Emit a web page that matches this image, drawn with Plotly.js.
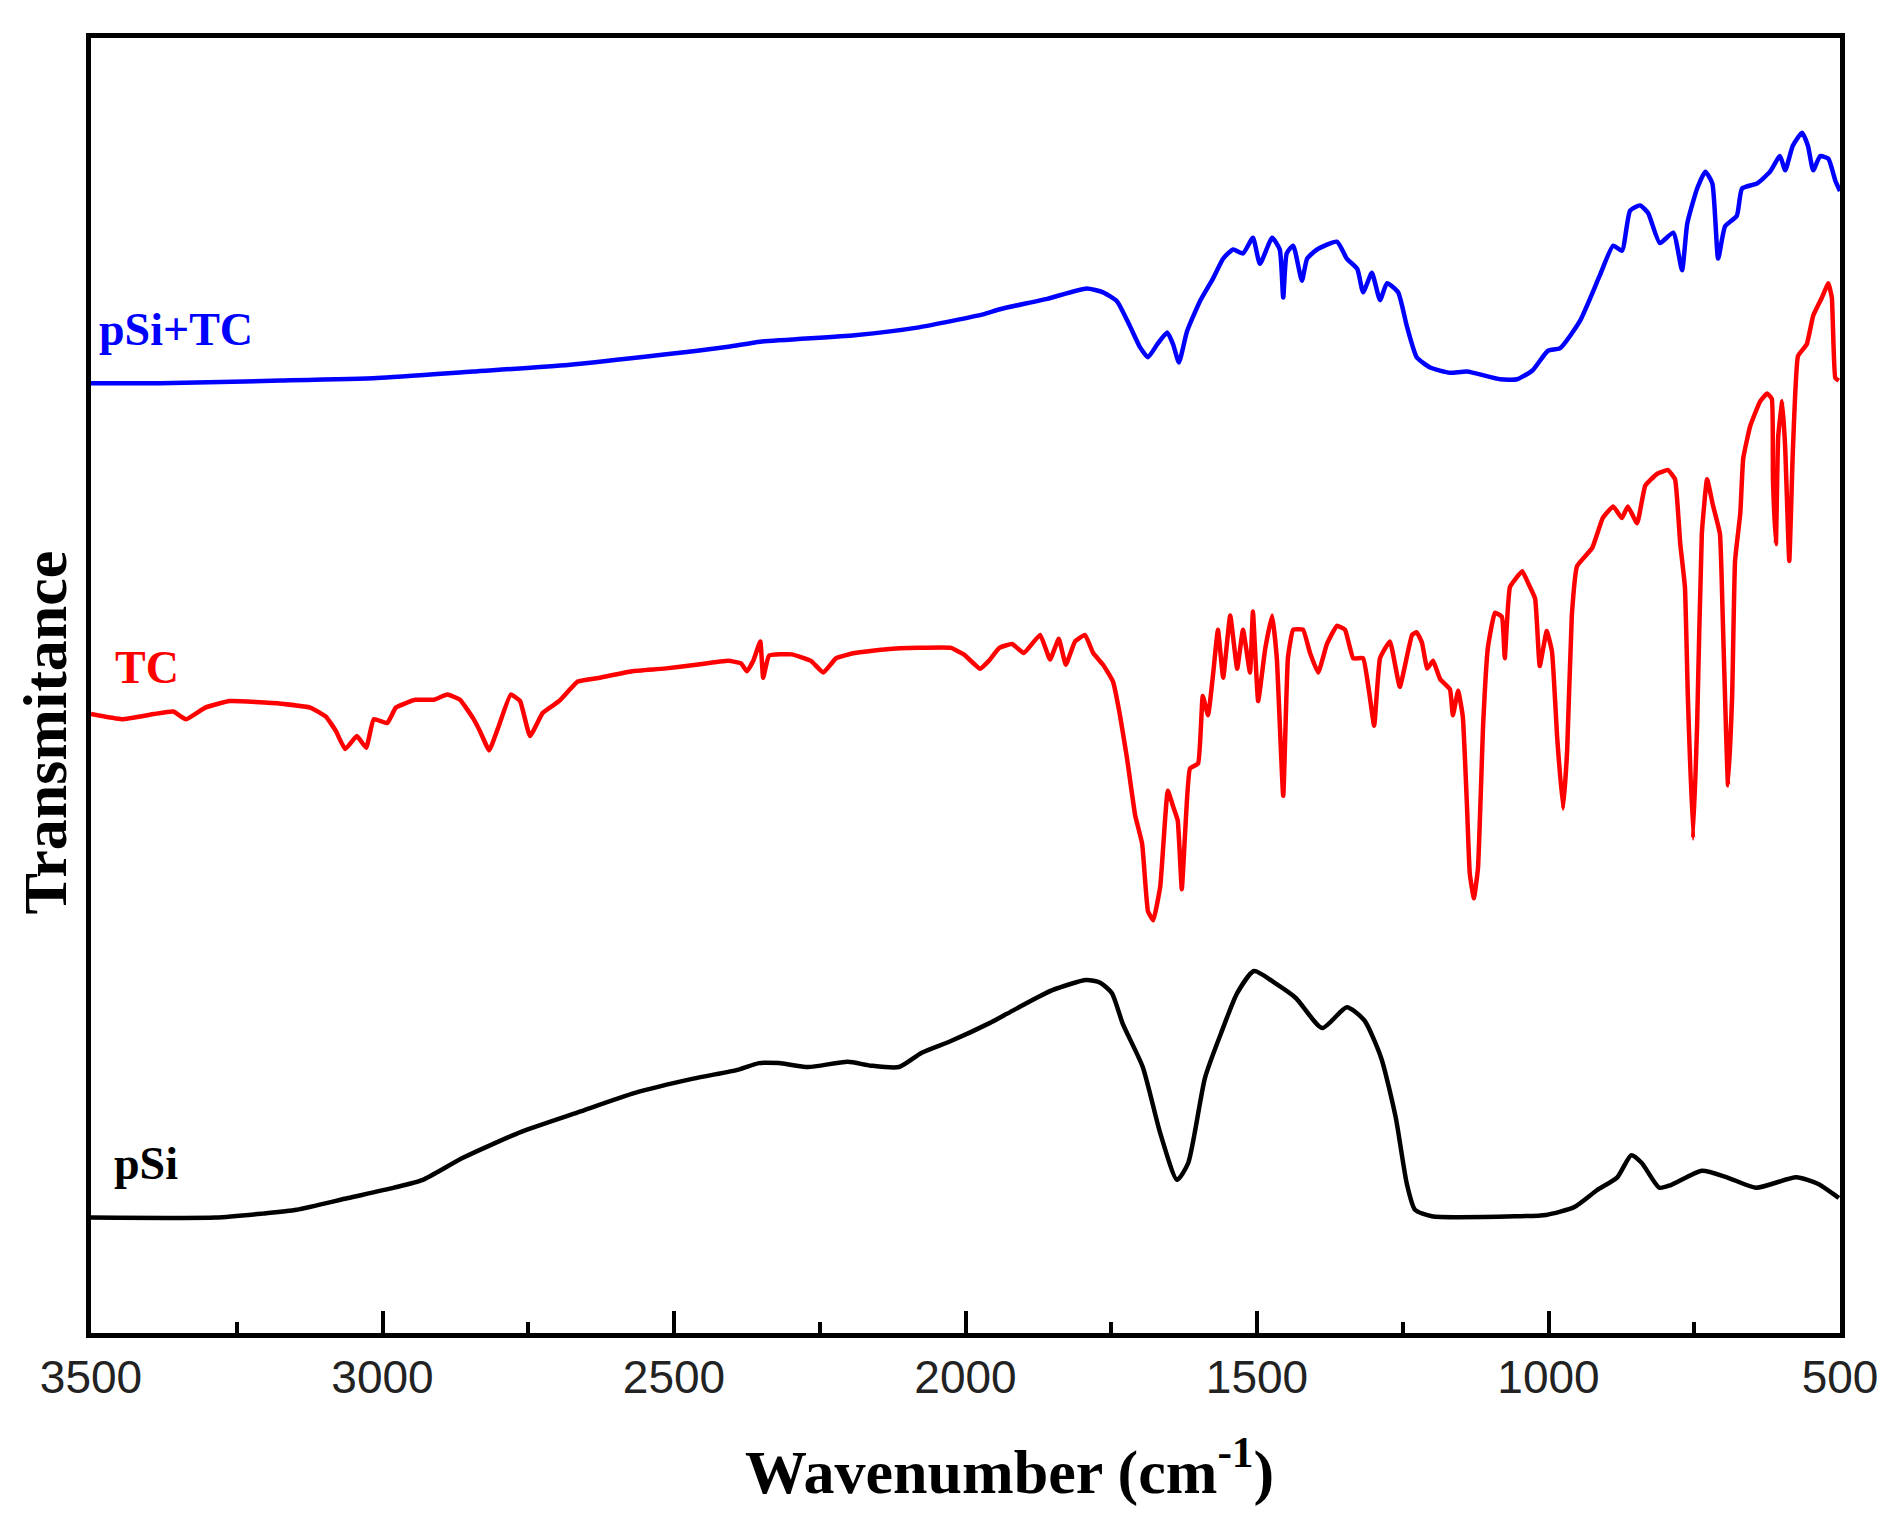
<!DOCTYPE html>
<html>
<head>
<meta charset="utf-8">
<script src="https://cdn.plot.ly/plotly-3.0.1.min.js"></script>
<style>html,body{margin:0;padding:0;background:#fff;}#chart{width:1892px;height:1518px;}</style>
</head>
<body>
<div id="chart"></div>
<script>
// Wavenumber (cm-1) and transmittance (a.u., stacked/offset)
const wnPSiTC = [3500,3382,3174,3009,2845,2682,2517,2407,2352,2190,2080,1970,1941,1860,1792,1764,1740,1718,1701,1687,1671,1654,1644,1634,1620,1598,1575,1558,1541,1524,1507,1495,1474,1461,1455,1449,1438,1423,1414,1397,1363,1346,1328,1318,1303,1289,1277,1258,1243,1226,1203,1169,1140,1083,1054,1027,1001,980,946,912,889,874,860,843,829,809,786,771,762,745,731,719,709,697,677,668,642,620,603,594,581,565,555,546,534,520,508,500];
const tPSiTC = [73.2,73.2,73.4,73.6,74.1,74.6,75.4,76.0,76.4,76.9,77.5,78.5,78.9,79.7,80.5,80.2,79.5,77.6,76.0,75.2,76.2,77.1,76.2,74.8,77.2,79.5,81.3,82.8,83.5,83.2,84.4,82.4,84.4,83.5,79.8,83.2,83.8,81.1,82.8,83.5,84.1,82.8,82.0,80.2,81.7,79.6,80.9,80.2,77.6,75.2,74.4,74.0,74.1,73.5,73.5,74.2,75.7,75.9,78.0,81.5,83.8,83.4,86.5,86.9,86.3,84.0,84.8,81.9,85.5,88.2,89.5,88.6,82.8,85.3,86.1,88.2,88.6,89.5,90.7,89.6,91.5,92.5,91.5,89.6,90.7,90.5,88.8,88.0];

const wnTC = [3500,3447,3392,3359,3337,3304,3262,3174,3124,3097,3080,3064,3044,3028,3015,2992,2977,2944,2912,2889,2867,2845,2833,2817,2802,2780,2764,2747,2725,2697,2665,2627,2572,2517,2462,2407,2385,2375,2364,2352,2347,2337,2298,2265,2244,2222,2190,2135,2080,2025,2003,1975,1960,1942,1920,1900,1872,1855,1840,1828,1812,1795,1781,1764,1747,1735,1723,1709,1697,1687,1678,1666,1653,1644,1636,1629,1623,1615,1601,1593,1584,1575,1567,1558,1546,1534,1524,1512,1507,1498,1486,1474,1466,1455,1447,1438,1421,1409,1395,1380,1363,1349,1335,1318,1308,1299,1289,1272,1255,1234,1226,1217,1208,1198,1186,1169,1164,1155,1147,1140,1135,1128,1121,1112,1104,1092,1080,1075,1066,1045,1035,1023,1015,1003,994,985,975,968,960,951,925,907,889,874,864,848,834,814,795,783,774,766,761,752,745,737,728,718,706,701,692,685,680,671,666,654,637,625,617,615,610,606,599,594,587,581,572,557,546,531,520,514,512,508,502];
const tTC = [47.7,47.3,47.7,47.9,47.3,48.2,48.7,48.5,48.2,47.5,46.4,45.0,46.0,45.1,47.3,47.0,48.2,48.8,48.8,49.2,48.8,47.4,46.4,44.9,46.6,49.2,48.7,46.0,47.8,48.7,50.2,50.5,51.0,51.2,51.5,51.8,51.6,51.0,51.8,53.3,50.5,52.2,52.3,51.8,50.9,52.0,52.4,52.7,52.8,52.8,52.3,51.2,51.8,52.8,53.1,52.4,53.8,51.9,53.5,51.5,53.3,53.8,52.4,51.5,50.2,47.6,44.3,39.9,37.7,32.5,31.8,34.4,41.8,40.6,39.5,34.2,38.8,43.5,43.9,49.1,47.6,50.9,54.2,50.5,55.3,51.2,54.2,50.9,55.6,48.7,52.7,55.3,52.0,41.4,52.0,54.2,54.2,52.4,50.9,53.1,54.5,54.2,52.0,52.0,49.5,46.8,52.0,53.3,49.8,53.8,54.0,53.2,51.2,51.8,50.4,49.6,47.6,49.5,47.5,40.8,35.4,33.5,35.8,47.0,52.8,55.5,55.2,52.0,57.5,58.7,57.8,56.6,51.4,54.1,52.5,45.8,40.4,44.9,55.3,59.1,60.5,62.8,63.7,62.8,63.7,62.4,65.3,66.2,66.5,65.8,60.8,57.5,49.1,38.1,47.0,61.6,65.8,63.8,61.6,54.9,42.2,49.1,59.5,63.2,67.4,69.9,71.8,72.4,72.0,65.8,60.8,69.1,71.8,68.2,59.5,67.8,75.3,76.2,78.4,79.8,80.9,79.8,77.4,73.6,73.4];

const wnPSi = [3500,3286,3207,3147,3059,2980,2931,2862,2762,2665,2567,2467,2389,2354,2320,2270,2202,2162,2114,2075,2025,1958,1929,1852,1793,1769,1749,1730,1696,1666,1637,1618,1589,1560,1534,1505,1467,1433,1388,1346,1316,1287,1262,1243,1229,1200,1052,1004,956,917,882,858,840,810,790,737,694,644,575,538,508,502];
const tPSi = [8.9,8.9,9.2,9.5,10.4,11.2,11.8,13.5,15.5,17.0,18.5,19.6,20.3,20.8,20.8,20.5,20.9,20.6,20.5,21.6,22.5,23.9,24.6,26.4,27.2,27.0,26.2,23.8,20.5,15.4,11.8,13.1,19.7,23.3,26.2,27.9,26.9,25.8,23.5,25.1,24.1,21.2,16.6,11.5,9.5,9.0,9.0,9.1,9.7,11.0,12.0,13.7,13.1,11.2,11.4,12.5,12.0,11.2,12.0,11.5,10.6,10.4];

const seriesNames = ["pSi+TC", "TC", "pSi"];
const seriesColors = ["#0000FF", "#FF0000", "#000000"];
const xTickVals = [3500,3000,2500,2000,1500,1000,500];
const xTickText = ["3500","3000","2500","2000","1500","1000","500"];
const xTitle = "Wavenumber (cm<sup>-1</sup>)";
const yTitle = "Transmitance";
// label anchor points (wavenumber, transmittance) for the curve names
const labelWn = [3490, 3462, 3464];
const labelT = [77.3, 51.3, 13.1];

const xs = [wnPSiTC, wnTC, wnPSi];
const ys = [tPSiTC, tTC, tPSi];
const smooth = [0.5, 0.35, 0.6];

const traces = seriesNames.map((n, i) => ({
  type: "scatter", mode: "lines", name: n,
  x: xs[i], y: ys[i],
  line: {color: seriesColors[i], width: 4.5, shape: "spline", smoothing: smooth[i]},
  hoverinfo: "x+y+name"
}));

const serif = "'Liberation Serif', 'Times New Roman', serif";
const annotations = seriesNames.map((n, i) => ({
  text: "<b>" + n + "</b>", x: labelWn[i], y: labelT[i], xref: "x", yref: "y",
  xanchor: "left", yanchor: "middle", showarrow: false,
  font: {family: serif, size: 46, color: seriesColors[i]}
}));
// axis titles placed as in the reference (slightly off-centre)
annotations.push({
  text: "<b>" + xTitle + "</b>", xref: "paper", yref: "paper", x: 0.5254, y: -0.104,
  xanchor: "center", yanchor: "middle", showarrow: false,
  font: {family: serif, size: 62, color: "#000"}
});
annotations.push({
  text: "<b>" + yTitle + "</b>", xref: "paper", yref: "paper", x: -0.026, y: 0.4633,
  xanchor: "center", yanchor: "middle", showarrow: false, textangle: -90,
  font: {family: serif, size: 62, color: "#000"}
});

const layout = {
  width: 1892, height: 1518,
  margin: {l: 91, r: 52, t: 38, b: 185},
  paper_bgcolor: "#ffffff", plot_bgcolor: "#ffffff",
  showlegend: false,
  xaxis: {
    range: [3500, 500], autorange: false,
    tickmode: "array", tickvals: xTickVals, ticktext: xTickText,
    ticks: "inside", ticklen: 22, tickwidth: 4, tickcolor: "#000",
    minor: {dtick: 250, tick0: 500, ticks: "inside", ticklen: 11, tickwidth: 4, tickcolor: "#000", showgrid: false},
    showline: true, linecolor: "#000", linewidth: 5, mirror: true,
    showgrid: false, zeroline: false,
    tickfont: {family: "'Liberation Sans', Arial, sans-serif", size: 46, color: "#222"}
  },
  yaxis: {
    range: [0, 99.8], autorange: false,
    showticklabels: false, ticks: "",
    showline: true, linecolor: "#000", linewidth: 5, mirror: true,
    showgrid: false, zeroline: false
  },
  annotations: annotations
};

Plotly.newPlot("chart", traces, layout, {displayModeBar: false, staticPlot: true});
</script>
</body>
</html>
